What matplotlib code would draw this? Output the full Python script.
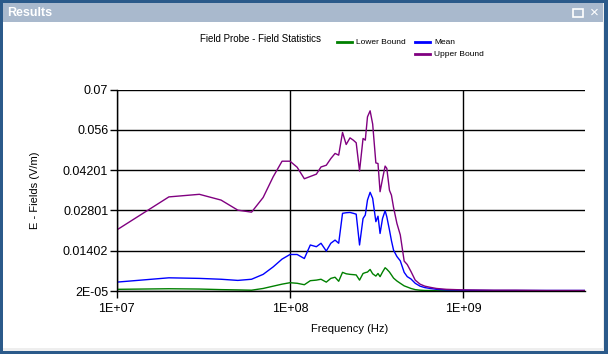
import numpy as np
import matplotlib
matplotlib.use("Agg")
import matplotlib.pyplot as plt
from matplotlib.patches import Rectangle
from matplotlib.lines import Line2D

plt.rcParams['font.family'] = ['Liberation Sans', 'DejaVu Sans']

# frequency points in MHz (shared by the three series)
freq_mhz = [10, 20, 30, 40, 50, 60, 70, 80, 90, 100, 110, 121, 131, 142, 151,
            162, 172, 182, 191, 201, 211, 222, 232, 241, 252, 264, 272, 280,
            290, 300, 313, 322, 331, 342, 354, 362, 375, 385, 396, 414, 433,
            456, 475, 499, 528, 563, 600, 644, 700, 800, 1000, 1500, 2000,
            3000, 5000]

upper = [0.0212, 0.0327, 0.0336, 0.0316, 0.0281, 0.0274, 0.0325, 0.0397,
         0.0451, 0.0451, 0.0430, 0.0390, 0.0398, 0.0406, 0.0431, 0.0437,
         0.0460, 0.0478, 0.0472, 0.0551, 0.0509, 0.0532, 0.0524, 0.0515,
         0.0417, 0.0530, 0.0524, 0.0605, 0.0626, 0.0580, 0.0445, 0.0443,
         0.0345, 0.0390, 0.0434, 0.0426, 0.0350, 0.0333, 0.0290, 0.0235,
         0.0195, 0.0104, 0.0092, 0.0068, 0.0038, 0.0024, 0.0017, 0.0013,
         0.0009, 0.0006, 0.0004, 0.0003, 0.0003, 0.0002, 0.0002]

mean = [0.0031, 0.0046, 0.0044, 0.0041, 0.0037, 0.0041, 0.0058, 0.0084,
        0.0111, 0.0127, 0.0127, 0.0113, 0.0160, 0.0154, 0.0166, 0.0139,
        0.0166, 0.0177, 0.0166, 0.0270, 0.0272, 0.0273, 0.0270, 0.0267,
        0.0160, 0.0252, 0.0264, 0.0316, 0.0343, 0.0322, 0.0241, 0.0260,
        0.0200, 0.0252, 0.0279, 0.0258, 0.0212, 0.0175, 0.0142, 0.0120,
        0.0105, 0.0065, 0.0050, 0.0042, 0.0027, 0.0017, 0.0012, 0.0009,
        0.0006, 0.0004, 0.0003, 0.0002, 0.0002, 0.0002, 0.0002]

lower = [0.0006, 0.0008, 0.0007, 0.0005, 0.0004, 0.0003, 0.0009, 0.0017,
         0.0024, 0.0029, 0.0027, 0.0022, 0.0036, 0.0038, 0.0041, 0.0031,
         0.0044, 0.0048, 0.0034, 0.0065, 0.0060, 0.0058, 0.0057, 0.0056,
         0.0038, 0.0061, 0.0064, 0.0066, 0.0075, 0.0060, 0.0052, 0.0061,
         0.0050, 0.0066, 0.0081, 0.0076, 0.0066, 0.0056, 0.0045, 0.0035,
         0.0027, 0.0018, 0.0014, 0.0009, 0.0005, 0.0003, 0.0002, 0.0002,
         0.0001, 0.0001, 0.0001, 0.0001, 0.0001, 0.0001, 0.0001]

y_tick_labels = ["2E-05", "0.01402", "0.02801", "0.04201", "0.056", "0.07"]
x_tick_labels = ["1E+07", "1E+08", "1E+09"]

W, H = 608, 354
freq = np.array(freq_mhz) * 1e6


def box(x, y, w, h):
    # pixel box (top-left origin) -> figure fraction
    return [x / W, 1 - (y + h) / H, w / W, h / H]


fig = plt.figure(figsize=(W / 100, H / 100), dpi=100)
fig.patch.set_facecolor("#2b5a8a")

# window chrome
fig.patches.append(Rectangle((0, 0), 1, 1, transform=fig.transFigure,
                             facecolor="#eeeeee", edgecolor="none", zorder=-3))
x0, y0, w0, h0 = box(3, 22, 600, 326)
fig.patches.append(Rectangle((x0, y0), w0, h0, transform=fig.transFigure,
                             facecolor="white", edgecolor="none", zorder=-1))
x0, y0, w0, h0 = box(3, 3, 600, 19)
fig.patches.append(Rectangle((x0, y0), w0, h0, transform=fig.transFigure,
                             facecolor="#a9b9cd", edgecolor="none", zorder=-1))
# blue border around
for b in [box(0, 0, 3, H), box(0, 0, W, 3), box(0, 351, W, 3), box(604, 0, 4, H)]:
    fig.patches.append(Rectangle(b[:2], b[2], b[3], transform=fig.transFigure,
                                 facecolor="#2b5a8a", edgecolor="none", zorder=0))
fig.text(7 / W, 1 - 13 / H, "Results", color="white", fontsize=9,
         fontweight="bold", va="center", ha="left")
# maximize / close icons
x0, y0, w0, h0 = box(573, 9, 10, 8)
fig.patches.append(Rectangle((x0, y0), w0, h0, transform=fig.transFigure,
                             facecolor="none", edgecolor="white", lw=1.2))
fig.text(594 / W, 1 - 13 / H, "\u00d7", color="white", fontsize=11,
         va="center", ha="center")

# plot area
ax = fig.add_axes(box(116.7, 89.5, 468.3, 201.5))
ax.set_facecolor("none")
ax.plot(freq, lower, color="#008000", lw=1.0)
ax.plot(freq, mean, color="#0000ff", lw=1.0)
ax.plot(freq, upper, color="#800080", lw=1.0)

ax.set_xscale("log")
ax.set_xlim(1e7, 5.04e9)
ax.set_ylim(2e-5, 0.07)
ax.set_xticks([1e7, 1e8, 1e9])
ax.set_xticklabels(x_tick_labels)
ax.xaxis.set_minor_locator(matplotlib.ticker.NullLocator())
ax.set_yticks(np.linspace(2e-5, 0.07, 6))
ax.set_yticklabels(y_tick_labels)
ax.tick_params(labelsize=9, length=5, width=1, color="black", pad=1)
ax.tick_params(axis="x", pad=4)
ax.grid(True, color="black", lw=1)
for s in ["top", "right"]:
    ax.spines[s].set_visible(False)
for s in ["left", "bottom"]:
    ax.spines[s].set_linewidth(1)

fig.text(350 / W, 1 - 329 / H, "Frequency (Hz)", fontsize=8,
         ha="center", va="center")
fig.text(35 / W, 1 - 190 / H, "E - Fields (V/m)", fontsize=8,
         ha="center", va="center", rotation=90)
fig.text(260 / W, 1 - 39 / H, "Field Probe - Field Statistics", fontsize=7,
         ha="center", va="center")

# legend
legend_items = [("Lower Bound", "#008000", 337, 42),
                ("Mean", "#0000ff", 415, 42),
                ("Upper Bound", "#800080", 415, 54)]
for name, col, lx, ly in legend_items:
    fig.lines.append(Line2D([lx / W, (lx + 15) / W], [1 - ly / H, 1 - ly / H],
                            transform=fig.transFigure, color=col, lw=2))
    fig.text((lx + 19) / W, 1 - ly / H, name, fontsize=6, ha="left",
             va="center")

fig.savefig("out.png", dpi=100, facecolor=fig.get_facecolor())
